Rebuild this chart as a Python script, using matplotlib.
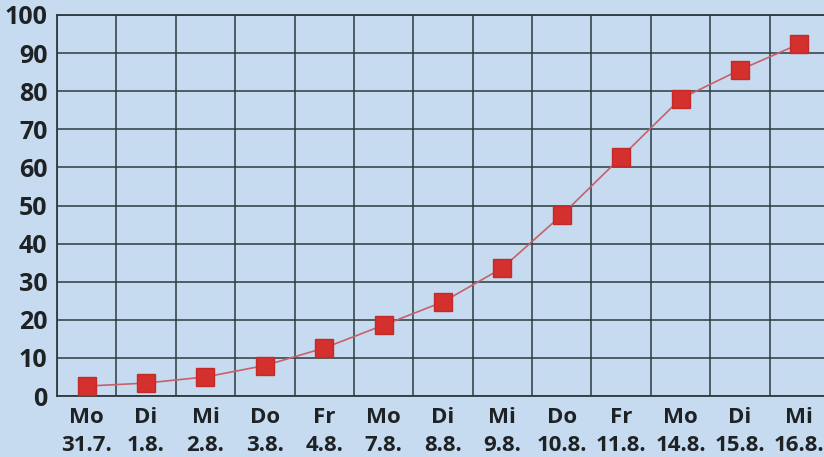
import matplotlib.pyplot as plt

days = ["Mo", "Di", "Mi", "Do", "Fr", "Mo", "Di", "Mi", "Do", "Fr", "Mo", "Di", "Mi"]
dates = ["31.7.", "1.8.", "2.8.", "3.8.", "4.8.", "7.8.", "8.8.", "9.8.",
         "10.8.", "11.8.", "14.8.", "15.8.", "16.8."]
values = [2.6, 3.4, 5.0, 8.0, 12.6, 18.6, 24.7, 33.6, 47.5, 62.7, 78.0, 85.6, 92.4]
yticks = [0, 10, 20, 30, 40, 50, 60, 70, 80, 90, 100]

bg = "#c6dbf0"
grid = "#2d3b40"

fig = plt.figure(figsize=(8.24, 4.57), dpi=100)
fig.patch.set_facecolor(bg)
W, H = 824, 457
ax = fig.add_axes([57 / W, 61 / H, (829 - 57) / W, (396 - 15) / H])
ax.set_facecolor(bg)

x = list(range(len(values)))
ax.plot(x, values, color="#c8606c", lw=1.2, zorder=3)
ax.plot(x, values, ls="none", marker="s", ms=12.5, color="#d3302e",
        mec="#c42a28", zorder=4)

ax.set_xlim(-0.5, len(values) - 0.5)
ax.set_ylim(0, 100)
ax.set_yticks(yticks)
# gridlines sit between the days, labels sit in the middle of each column
ax.set_xticks([i + 0.5 for i in range(-1, len(values))], minor=False)
ax.set_xticklabels([])
ax.set_xticks(x, minor=True)
ax.set_xticklabels([f"{d}\n{t}" for d, t in zip(days, dates)], minor=True)

ax.grid(True, which="major", color=grid, lw=1.1)
ax.set_axisbelow(True)
for s in ax.spines.values():
    s.set_color(grid)
    s.set_linewidth(1.3)

ax.tick_params(axis="both", which="both", length=0)
ax.tick_params(axis="y", pad=7, labelsize=18, colors="#1e2224")
ax.tick_params(axis="x", which="minor", pad=8, labelsize=16, colors="#1e2224")
for lab in ax.get_yticklabels() + ax.get_xticklabels(minor=True):
    lab.set_fontfamily("Open Sans")
    lab.set_fontweight("bold")
for lab in ax.get_xticklabels(minor=True):
    lab.set_linespacing(1.4)

fig.savefig("out.png", dpi=100, facecolor=bg)
